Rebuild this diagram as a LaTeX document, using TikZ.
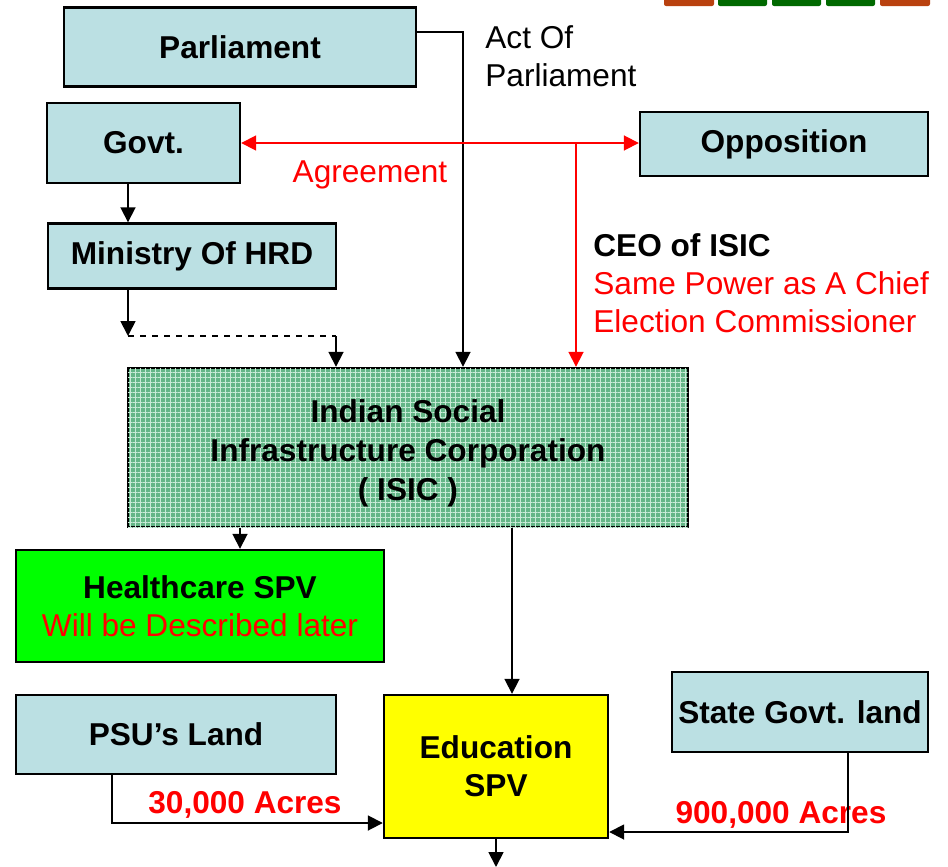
\documentclass[tikz,border=0pt]{standalone}
\usepackage{fontspec}
\setmainfont{Liberation Sans}
\usetikzlibrary{positioning}
\usetikzlibrary{arrows.meta}
\usetikzlibrary{patterns.meta}

\definecolor{boxblue}{RGB}{187,224,227}
\definecolor{isicgreen}{RGB}{100,182,135}
\definecolor{isicgrid}{RGB}{200,235,215}
\definecolor{hcgreen}{RGB}{0,255,0}
\definecolor{eduyellow}{RGB}{255,255,0}
\definecolor{txtred}{RGB}{255,0,0}
\definecolor{logored}{RGB}{185,65,15}
\definecolor{logogreen}{RGB}{0,105,0}

\tikzset{
	base/.style={font=\fontsize{15.8}{19}\selectfont},
	box/.style={base, draw, line width=1.2pt, fill=boxblue, inner sep=0pt, align=center, font=\fontsize{15.8}{19}\selectfont\bfseries},
	arr/.style={line width=0.9pt, -{Triangle[length=7.5pt,width=7.5pt]}},
	redarr/.style={arr, draw=txtred, color=txtred}
}

\begin{document}
\begin{tikzpicture}[x=0.5pt, y=-0.5pt]
	
	\useasboundingbox (0,0) rectangle (948,867);
	
	% logo strip, cut off at the top
	\foreach \xa/\xb/\col in {664/714/logored, 718/767/logogreen, 772/821/logogreen, 826/875/logogreen, 880/930/logored}
		\fill [\col, rounded corners=1pt] (\xa,-4) rectangle (\xb,6);
	
	\node [box, minimum width=176pt, minimum height=39.5pt] at (240,47) (PARL) {Parliament};
	\node [box, minimum width=96.5pt, minimum height=40pt] at (143.5,143) (GOVT) {Govt.};
	\node [box, minimum width=144pt, minimum height=32pt] at (784,144) (OPP) {Opposition};
	\node [box, minimum width=144pt, minimum height=32.5pt] at (192,256) (HRD) {Ministry Of HRD};
	
	\node [box, fill=isicgreen, minimum width=280pt, minimum height=79.5pt,
		postaction={pattern={Lines[angle=0,distance=2.5pt,line width=0.4pt]}, pattern color=isicgrid},
		postaction={pattern={Lines[angle=90,distance=2.5pt,line width=0.4pt]}, pattern color=isicgrid}]
		at (408,447.5) (ISIC) {\rule{0pt}{17pt}Indian Social\\[0.5pt]Infrastructure Corporation\\[0.5pt]( ISIC )};
	
	\node [box, fill=hcgreen, minimum width=184pt, minimum height=56pt] at (200,606) (HSPV)
		{Healthcare SPV\\{\mdseries\color{txtred}Will be Described later}};
	\node [box, minimum width=160pt, minimum height=39.5pt] at (176,734.5) (PSU) {PSU’s Land};
	\node [box, fill=eduyellow, minimum width=112pt, minimum height=71.5pt] at (496,766.5) (ESPV) {Education\\SPV};
	\node [box, minimum width=128pt, minimum height=40pt] at (800,712) (SGL) {State Govt. land};
	
	% free texts
	\node [base, anchor=west, align=left, inner sep=0pt] at (485,56) (ACT) {Act Of\\Parliament};
	\node [base, txtred, inner sep=0pt] at (370,175) (AGR) {Agreement};
	\node [base, anchor=west, align=left, inner sep=0pt] at (593,283) (CEO)
		{\textbf{CEO of ISIC}\\{\color{txtred}Same Power as A Chief}\\{\color{txtred}Election Commissioner}};
	\node [base, txtred, font=\fontsize{15.8}{19}\selectfont\bfseries, inner sep=0pt] at (245,805) (A30) {30,000 Acres};
	\node [base, txtred, font=\fontsize{15.8}{19}\selectfont\bfseries, inner sep=0pt] at (781,815) (A900) {900,000 Acres};
	
	\coordinate (HRD1) at (128,336);
	\coordinate (HRD2) at (336,336);
	\coordinate (SPLIT) at (576,143);
	\coordinate (OUT) at (496,867);
	
	% connectors
	\draw [arr] (PARL.east |- 0,32) -| (ISIC.north -| 463,0);
	\draw [redarr, {Triangle[length=7.5pt,width=7.5pt]}-{Triangle[length=7.5pt,width=7.5pt]}] (GOVT.east |- SPLIT) -- (OPP.west |- SPLIT);
	\draw [redarr] (SPLIT) -- (ISIC.north -| SPLIT);
	\draw [arr] (GOVT.south -| 128,0) -- (HRD.north -| 128,0);
	\draw [arr] (HRD.south -| HRD1) -- (HRD1);
	\draw [line width=0.9pt, dashed] (HRD1) -- (HRD2);
	\draw [arr] (HRD2) -- (ISIC.north -| HRD2);
	\draw [arr] (ISIC.south -| 240,0) -- (HSPV.north -| 240,0);
	\draw [arr] (ISIC.south -| 512,0) -- (ESPV.north -| 512,0);
	\draw [arr] (PSU.south -| 112,0) |- (ESPV.west |- 0,823);
	\draw [arr] (SGL.south -| 848,0) |- (ESPV.east |- 0,832);
	\draw [arr] (ESPV.south) -- (OUT);
	
\end{tikzpicture}
\end{document}
